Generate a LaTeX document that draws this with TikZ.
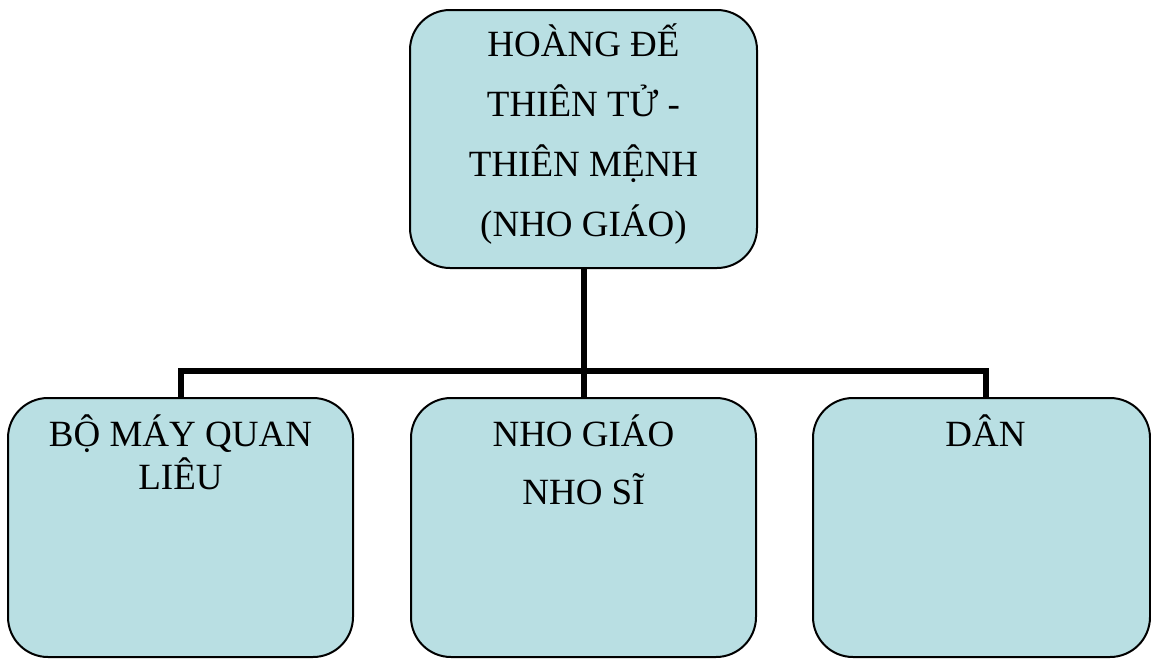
\documentclass[tikz,border=0pt]{standalone}
\usepackage{fontspec}
\setmainfont{Liberation Serif}
\usetikzlibrary{positioning}
\definecolor{boxblue}{RGB}{185,223,227}
\tikzset{
  basic/.style   = {draw, line width=2pt, fill=boxblue, rectangle,
                    rounded corners=40pt, inner sep=0pt},
  root/.style    = {basic, minimum width=347pt, minimum height=258pt},
  member/.style  = {basic, minimum width=345pt, minimum height=259pt},
  caption/.style = {align=center, inner sep=0pt, anchor=base},
  link/.style    = {line width=6pt, line join=miter}
}

\begin{document}
\begin{tikzpicture}[x=1pt, y=-1pt]
\useasboundingbox (0,0) rectangle (1151,659);

% the head of the chart
\node[root] (c0) at (583.5,139) {};

% the three boxes below it
\node[member] (c1) at (180.5,527.5) {};
\node[member] (c2) at (583.5,527.5) {};
\node[member, minimum width=337pt] (c3) at (981.5,527.5) {};

% texts in the boxes (base = baseline of the last line)
\node[caption, font=\fontsize{37}{60}\selectfont] (t0) at ([yshift=-227pt]c0.north)
  {HO\`ANG ĐẾ\\THIÊN TỬ -\\THIÊN MỆNH\\(NHO GIÁO)};
\node[caption, font=\fontsize{37}{43}\selectfont] (t1) at ([yshift=-92pt]c1.north) {BỘ MÁY QUAN\\LIÊU};
\node[caption, font=\fontsize{37}{58}\selectfont] (t2) at ([yshift=-107pt]c2.north) {NHO GIÁO\\NHO SĨ};
\node[caption, font=\fontsize{37}{58}\selectfont] (t3) at ([xshift=4pt, yshift=-49pt]c3.north) {DÂN};

% lines from the head to every box
\coordinate (bus) at (583.5,371);
\draw[link] (c0.south) -- (c2.north);
\draw[link] (c1.north) |- (bus) -| ([xshift=4pt]c3.north);
\end{tikzpicture}
\end{document}
